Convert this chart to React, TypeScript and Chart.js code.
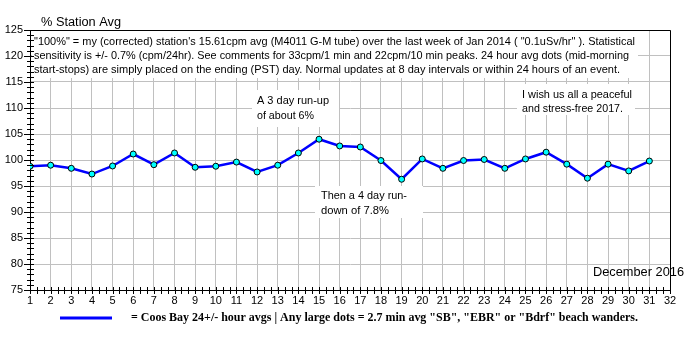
import React, { useEffect, useRef } from "react";
import { Chart, registerables } from "chart.js";

Chart.register(...registerables);

const days = [1, 2, 3, 4, 5, 6, 7, 8, 9, 10, 11, 12, 13, 14, 15, 16, 17, 18, 19, 20, 21, 22, 23, 24, 25, 26, 27, 28, 29, 30, 31];
const pctAvg = [98.8, 99.0, 98.4, 97.3, 98.85, 101.15, 99.1, 101.35, 98.6, 98.8, 99.6, 97.7, 99.0, 101.35, 104.0, 102.7, 102.5, 99.9, 96.3, 100.2, 98.4, 99.9, 100.1, 98.4, 100.2, 101.5, 99.2, 96.5, 99.2, 97.9, 99.8];

const headerLines = [
  '"100%" = my (corrected) station\'s 15.61cpm avg (M4011 G-M tube) over the last week of Jan 2014 ( "0.1uSv/hr" ). Statistical',
  "sensitivity is +/- 0.7% (cpm/24hr). See comments for 33cpm/1 min and 22cpm/10 min peaks. 24 hour avg dots (mid-morning",
  "start-stops) are simply placed on the ending (PST) day. Normal updates at 8 day intervals or within 24 hours of an event.",
];
const runUpNote = ["A 3 day run-up", "of about 6%"];
const runDownNote = ["Then a 4 day run-", "down of 7.8%"];
const wishNote = ["I wish us all a peaceful", "and stress-free 2017."];
const monthLabel = "December 2016";
const yTitle = "% Station Avg";
const legendText = '= Coos Bay 24+/- hour avgs | Any large dots = 2.7 min avg "SB", "EBR" or "Bdrf" beach wanders.';

const SANS = '"Liberation Sans", Arial, sans-serif';

function fitText(ctx: CanvasRenderingContext2D, text: string, x: number, y: number, w: number) {
  const m = ctx.measureText(text).width;
  ctx.save();
  ctx.translate(x, y);
  ctx.scale(w / m, 1);
  ctx.fillText(text, 0, 0);
  ctx.restore();
}

const overlay = {
  id: "overlay",
  beforeDatasetsDraw(chart: any) {
    const ctx: CanvasRenderingContext2D = chart.ctx;
    const { left, top } = chart.chartArea;
    ctx.save();
    ctx.fillStyle = "#ffffff";
    ctx.fillRect(left + 2, top + 1, 606, 47);
    ctx.fillRect(252, 90, 87, 37);
    ctx.fillRect(315, 186, 108, 32);
    ctx.fillRect(517, 84, 118, 31);
    ctx.fillStyle = "#000000";
    ctx.textBaseline = "middle";
    ctx.font = "11px " + SANS;
    const hw = [601, 595, 586];
    headerLines.forEach((t, i) => fitText(ctx, t, 34, 42 + i * 14, hw[i]));
    fitText(ctx, runUpNote[0], 257, 101, 72);
    fitText(ctx, runUpNote[1], 257, 116, 57);
    fitText(ctx, runDownNote[0], 321, 196, 86);
    fitText(ctx, runDownNote[1], 321, 211, 68);
    fitText(ctx, wishNote[0], 522, 95, 110);
    fitText(ctx, wishNote[1], 522, 109, 101);
    ctx.restore();
  },
  afterDraw(chart: any) {
    const ctx: CanvasRenderingContext2D = chart.ctx;
    const { left, right, top, bottom } = chart.chartArea;
    const xs = chart.scales.x;
    const ys = chart.scales.y;
    ctx.save();
    ctx.strokeStyle = "#000000";
    ctx.lineWidth = 1;
    ctx.beginPath();
    ctx.moveTo(left, top + 0.5);
    ctx.lineTo(right + 0.5, top + 0.5);
    ctx.lineTo(right + 0.5, bottom);
    for (let v = 75; v <= 125; v++) {
      const py = Math.round(ys.getPixelForValue(v)) + 0.5;
      const major = v % 5 === 0;
      ctx.moveTo(major ? left - 6 : left - 3, py);
      ctx.lineTo(left + 4, py);
    }
    for (let k = 0; k <= 93; k++) {
      const v = 1 + k / 3;
      const px = Math.round(xs.getPixelForValue(v)) + 0.5;
      ctx.moveTo(px, bottom - 3);
      ctx.lineTo(px, bottom + 4);
    }
    ctx.stroke();
    ctx.fillStyle = "#000000";
    ctx.textBaseline = "middle";
    ctx.font = "12px " + SANS;
    fitText(ctx, monthLabel, 593, 273, 91);
    fitText(ctx, yTitle, 41, 23, 80);
    ctx.strokeStyle = "#0000ff";
    ctx.lineWidth = 3;
    ctx.beginPath();
    ctx.moveTo(60, 318);
    ctx.lineTo(112, 318);
    ctx.stroke();
    ctx.font = 'bold 12px "Liberation Serif", "Times New Roman", serif';
    fitText(ctx, legendText, 131, 318, 507);
    ctx.restore();
  },
};

export default function App() {
  const ref = useRef<HTMLCanvasElement | null>(null);
  useEffect(() => {
    document.body.style.margin = "0";
    const canvas = ref.current!;
    const chart = new Chart(canvas, {
      type: "line",
      data: {
        datasets: [
          {
            data: days.map((d, i) => ({ x: d, y: pctAvg[i] })),
            borderColor: "#0000ff",
            borderWidth: 2.5,
            pointRadius: 3,
            pointBackgroundColor: "#00ffff",
            pointBorderColor: "#000000",
            pointBorderWidth: 1,
            tension: 0,
          },
        ],
      },
      options: {
        animation: false,
        responsive: false,
        devicePixelRatio: 1,
        layout: { padding: { left: 0, top: 30, right: 30, bottom: 40 } },
        plugins: { legend: { display: false }, tooltip: { enabled: false } },
        scales: {
          x: {
            type: "linear",
            min: 1,
            max: 32,
            afterFit: (s: any) => { s.height = 20; },
            ticks: { stepSize: 1, autoSkip: false, maxRotation: 0, padding: 4, color: "#000", font: { size: 11, family: SANS } },
            grid: { color: "#c0c0c0", drawTicks: false, lineWidth: 1 },
            border: { display: true, color: "#000000", width: 1 },
          },
          y: {
            min: 75,
            max: 125,
            afterFit: (s: any) => { s.width = 30; },
            ticks: { stepSize: 5, padding: 7, color: "#000", font: { size: 11, family: SANS } },
            grid: { color: "#c0c0c0", drawTicks: false, lineWidth: 1 },
            border: { display: true, color: "#000000", width: 1 },
          },
        },
      },
      plugins: [overlay],
    });
    return () => chart.destroy();
  }, []);
  return <canvas ref={ref} width={700} height={350} style={{ display: "block" }} />;
}
